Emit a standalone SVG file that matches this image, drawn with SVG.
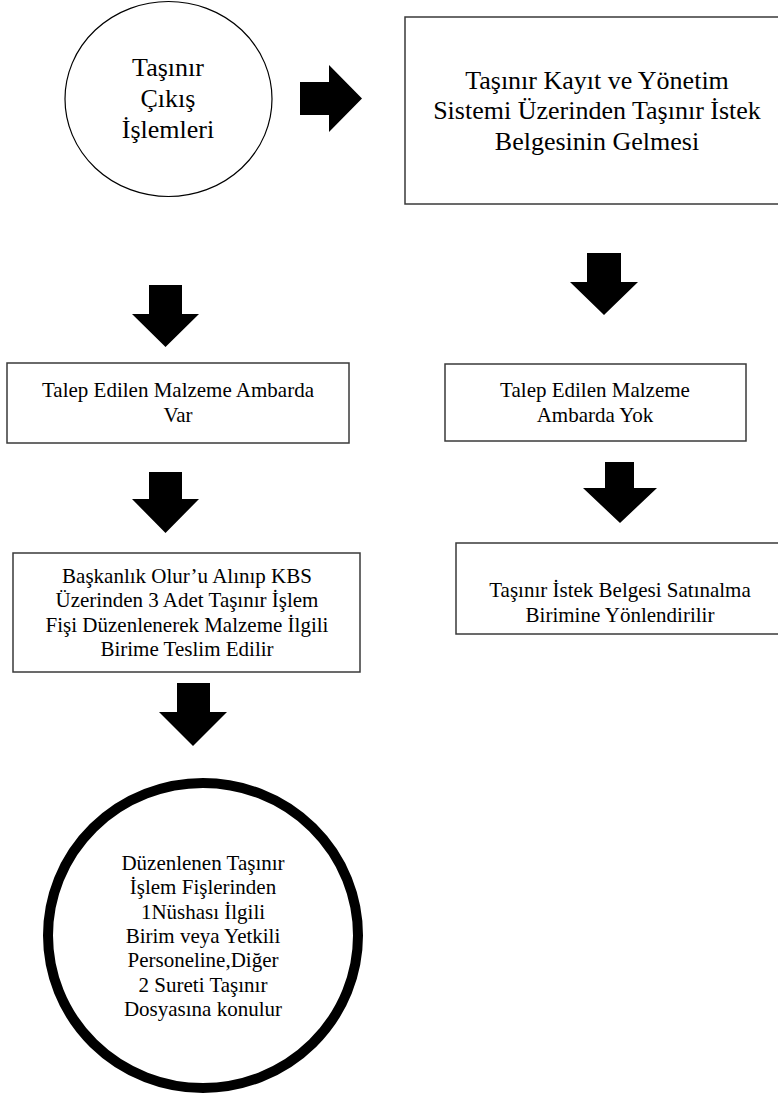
<svg xmlns="http://www.w3.org/2000/svg" width="778" height="1097" viewBox="0 0 778 1097">
<style>
.box{fill:#fff;stroke:#3a3a3a;stroke-width:1.5}
.lg{font-family:'Liberation Serif',serif;font-size:26px;text-anchor:middle;fill:#000}
.sm{font-family:'Liberation Serif',serif;font-size:21px;text-anchor:middle;fill:#000}
.arr{fill:#000}
</style>
<rect width="778" height="1097" fill="#fff"/>
<g id="node-start">
<ellipse cx="168.5" cy="99" rx="103.5" ry="97.5" fill="#fff" stroke="#000" stroke-width="1.2"/>
<text class="lg"><tspan x="168" y="76">Taşınır</tspan><tspan x="168" y="107">Çıkış</tspan><tspan x="168" y="138">İşlemleri</tspan></text>
</g>
<g id="node-tkys">
<rect class="box" x="405" y="17" width="380" height="187"/>
<text class="lg"><tspan x="597" y="89">Taşınır Kayıt ve Yönetim</tspan><tspan x="597" y="119">Sistemi Üzerinden Taşınır İstek</tspan><tspan x="597" y="150">Belgesinin Gelmesi</tspan></text>
</g>
<g id="node-var">
<rect class="box" x="7" y="363" width="342" height="80"/>
<text class="sm"><tspan x="178" y="397">Talep Edilen Malzeme Ambarda</tspan><tspan x="178" y="422">Var</tspan></text>
</g>
<g id="node-yok">
<rect class="box" x="445" y="364" width="301" height="77"/>
<text class="sm"><tspan x="595" y="397">Talep Edilen Malzeme</tspan><tspan x="595" y="422">Ambarda Yok</tspan></text>
</g>
<g id="node-kbs">
<rect class="box" x="13" y="553" width="347" height="119"/>
<text class="sm"><tspan x="187" y="583">Başkanlık Olur’u Alınıp KBS</tspan><tspan x="187" y="607">Üzerinden 3 Adet Taşınır İşlem</tspan><tspan x="187" y="632">Fişi Düzenlenerek Malzeme İlgili</tspan><tspan x="187" y="656">Birime Teslim Edilir</tspan></text>
</g>
<g id="node-satinalma">
<rect class="box" x="456" y="543" width="330" height="91"/>
<text class="sm"><tspan x="620" y="597">Taşınır İstek Belgesi Satınalma</tspan><tspan x="620" y="622">Birimine Yönlendirilir</tspan></text>
</g>
<g id="node-end">
<ellipse cx="203" cy="935.5" rx="155" ry="152.5" fill="#fff" stroke="#000" stroke-width="10"/>
<text class="sm"><tspan x="203" y="870">Düzenlenen Taşınır</tspan><tspan x="203" y="894">İşlem Fişlerinden</tspan><tspan x="203" y="919">1Nüshası İlgili</tspan><tspan x="203" y="943">Birim veya Yetkili</tspan><tspan x="203" y="967">Personeline,Diğer</tspan><tspan x="203" y="992">2 Sureti Taşınır</tspan><tspan x="203" y="1016">Dosyasına konulur</tspan></text>
</g>
<g id="connectors">
<polygon class="arr" points="300,82 329,82 329,65 362,98.5 329,132 329,115 300,115"/>
<polygon class="arr" points="149,285 182,285 182,314 199,314 165.5,347 132,314 149,314"/>
<polygon class="arr" points="149,472 182,472 182,499 199,499 165.5,533 132,499 149,499"/>
<polygon class="arr" points="177,683 210,683 210,712 227,712 193,746 159,712 177,712"/>
<polygon class="arr" points="587,253 621,253 621,282 638,282 604,315 570,282 587,282"/>
<polygon class="arr" points="605,462 634,462 634,488 657,488 620,523 583,488 605,488"/>
</g>
</svg>
